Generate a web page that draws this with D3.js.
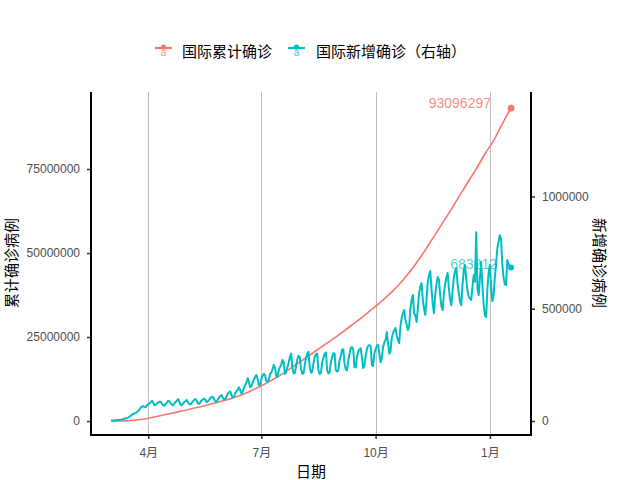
<!DOCTYPE html>
<html><head><meta charset="utf-8">
<script src="https://cdn.jsdelivr.net/npm/d3@7"></script>
<style>body{margin:0;background:#fff} svg{display:block}</style>
</head><body>
<svg id="chart" width="640" height="480"></svg>
<script>
// ---- data ----
const startDate = "2020-03-02";            // first day of the daily series
// daily new confirmed cases (thousands), Mon..Sun per row
const newCasesK = [
  1.8, 2.0, 2.3, 2.5, 3.5, 4.0, 4.5,
  4.8, 6.0, 7.5, 9.0, 11.0, 12.5, 14.0,
  16, 20, 24, 28, 32, 35, 36,
  40, 45, 52, 60, 64, 67, 62,
  62, 70, 75, 78, 84, 90, 82,
  70, 72, 78, 82, 86, 85, 77,
  70, 68, 76, 82, 90, 88, 80,
  73, 70, 78, 85, 90, 98, 86,
  72, 70, 78, 84, 88, 94, 84,
  75, 74, 80, 88, 94, 98, 91,
  78, 76, 84, 92, 96, 100, 94,
  84, 88, 94, 104, 106, 108, 96,
  88, 86, 96, 104, 112, 116, 104,
  96, 98, 110, 120, 128, 132, 116,
  104, 108, 124, 132, 140, 150, 138,
  122, 130, 148, 160, 170, 190, 175,
  150, 155, 172, 185, 195, 205, 188,
  160, 162, 185, 200, 210, 205, 178,
  175, 180, 210, 215, 230, 250, 240,
  200, 196, 225, 240, 250, 272, 262,
  210, 218, 240, 258, 285, 300, 239,
  212, 214, 245, 275, 290, 282, 232,
  210, 212, 250, 280, 300, 308, 240,
  215, 220, 258, 285, 298, 300, 224,
  210, 214, 262, 282, 300, 305, 227,
  212, 216, 260, 285, 302, 300, 225,
  220, 225, 272, 290, 318, 320, 255,
  230, 225, 270, 300, 325, 330, 320,
  240, 238, 285, 310, 318, 325, 284,
  236, 245, 290, 320, 335, 338, 336,
  250, 245, 300, 320, 335, 340, 300,
  262, 280, 330, 350, 360, 396, 350,
  300, 310, 370, 390, 405, 414, 380,
  360, 347, 420, 460, 480, 494, 450,
  430, 405, 420, 500, 540, 561, 480,
  470, 441, 500, 570, 600, 614, 540,
  500, 472, 540, 620, 650, 668, 590,
  520, 481, 560, 610, 641, 630, 560,
  510, 494, 570, 610, 640, 659, 590,
  540, 516, 580, 640, 670, 681, 610,
  570, 530, 516, 610, 670, 695, 630,
  580, 555, 545, 539, 600, 650, 620,
  841, 590, 561, 640, 708, 600, 520,
  470, 463, 590, 660, 695, 600, 534,
  560, 640, 700, 770, 800, 828, 810,
  700, 640, 610, 605, 717, 700, 690,
  683.212
];
// cumulative confirmed cases (millions), every Monday from startDate (last = final day)
const cumulativeM = [
  0.009, 0.030, 0.095, 0.286, 0.676, 1.217, 1.767, 2.321, 2.901, 3.471,
  4.071, 4.691, 5.371, 6.077, 6.877, 7.773, 8.868, 10.118, 11.418, 12.918,
  14.563, 16.313, 18.063, 19.863, 21.663, 23.463, 25.263, 27.163, 29.163, 31.163,
  33.263, 35.353, 37.68, 40.25, 43.26, 46.60, 50.33, 54.37, 58.38, 62.45,
  66.69, 70.91, 75.00, 79.46, 83.47, 88.44, 93.096297
];
const xTickDates  = ["2020-04-01", "2020-07-01", "2020-10-01", "2021-01-01"];
const xTickLabels = ["4月", "7月", "10月", "1月"];
const leftTicks   = [0, 25000000, 50000000, 75000000];
const rightTicks  = [0, 500000, 1000000];
const seriesNames = ["国际累计确诊", "国际新增确诊（右轴）"];
const colors      = ["#F8766D", "#00BFC4"];

// ---- build ----
const parse = d3.utcParse("%Y-%m-%d");
const t0 = parse(startDate);
const daily = newCasesK.map((v, i) => ({ date: d3.utcDay.offset(t0, i), value: Math.round(v * 1000) }));
const cum = cumulativeM.map((v, i) => ({ date: d3.utcDay.offset(t0, i === cumulativeM.length - 1 ? newCasesK.length - 1 : i * 7), value: Math.round(v * 1e6) }));

const svg = d3.select("#chart");
const P = { left: 91, right: 531, top: 92, bottom: 435 };
const numFont = "'Liberation Sans', Arial, 'Noto Sans CJK SC', sans-serif";
const cjkFont = "'Noto Sans CJK SC', 'Liberation Sans', sans-serif";

const x = d3.scaleUtc().domain([t0, daily[daily.length - 1].date]).range([111, 511]);
const yL = d3.scaleLinear().domain([0, 100000000]).range([421, 85]);
const yR = d3.scaleLinear().domain([0, 1000000]).range([421, 196.5]);

// grid
svg.append("g").selectAll("line").data(xTickDates).join("line")
  .attr("x1", d => Math.round(x(parse(d))) + 0.5).attr("x2", d => Math.round(x(parse(d))) + 0.5)
  .attr("y1", P.top).attr("y2", P.bottom)
  .attr("stroke", "#BDBDBD").attr("stroke-width", 1);

// axes
function styleAxis(g) {
  g.select(".domain").remove();
  g.selectAll(".tick line").attr("stroke", "#333").attr("stroke-width", 1.5);
  g.selectAll(".tick text").attr("fill", "#4D4D4D").style("font-family", numFont).style("font-size", "12px");
}
svg.append("g").attr("transform", `translate(${P.left},0)`)
  .call(d3.axisLeft(yL).tickValues(leftTicks).tickFormat(d3.format("d")).tickSize(4).tickPadding(7))
  .call(styleAxis);
svg.append("g").attr("transform", `translate(${P.right},0)`)
  .call(d3.axisRight(yR).tickValues(rightTicks).tickFormat(d3.format("d")).tickSize(4).tickPadding(7))
  .call(styleAxis);
svg.append("g").attr("transform", `translate(0,${P.bottom})`)
  .call(d3.axisBottom(x).tickValues(xTickDates.map(parse)).tickFormat((d, i) => xTickLabels[i]).tickSize(4).tickPadding(9))
  .call(styleAxis);

// axis lines
const axisLines = [[P.left, P.top, P.left, P.bottom + 1], [P.right, P.top, P.right, P.bottom + 1], [P.left - 1, P.bottom, P.right + 1, P.bottom]];
svg.append("g").selectAll("line").data(axisLines).join("line")
  .attr("x1", d => d[0]).attr("y1", d => d[1]).attr("x2", d => d[2]).attr("y2", d => d[3])
  .attr("stroke", "#000").attr("stroke-width", 2);

// lines
svg.append("path").datum(cum)
  .attr("fill", "none").attr("stroke", colors[0]).attr("stroke-width", 1.6)
  .attr("d", d3.line().x(d => x(d.date)).y(d => yL(d.value)).curve(d3.curveMonotoneX));
svg.append("path").datum(daily)
  .attr("fill", "none").attr("stroke", colors[1]).attr("stroke-width", 2).attr("stroke-linejoin", "round")
  .attr("d", d3.line().x(d => x(d.date)).y(d => yR(d.value)));

// end points and labels
const lastCum = cum[cum.length - 1], lastNew = daily[daily.length - 1];
svg.append("circle").attr("cx", x(lastCum.date)).attr("cy", yL(lastCum.value)).attr("r", 3.4).attr("fill", colors[0]);
svg.append("circle").attr("cx", x(lastNew.date)).attr("cy", yR(lastNew.value)).attr("r", 3.0).attr("fill", colors[1]);
svg.append("text").attr("x", 491).attr("y", yL(lastCum.value))
  .attr("text-anchor", "end").attr("fill", colors[0]).attr("fill-opacity", 0.85)
  .style("font-family", numFont).style("font-size", "14px").text(d3.format("d")(lastCum.value));
svg.append("text").attr("x", 497).attr("y", yR(lastNew.value) + 1)
  .attr("text-anchor", "end").attr("fill", colors[1]).attr("fill-opacity", 0.7)
  .style("font-family", numFont).style("font-size", "14px").text(d3.format("d")(lastNew.value));

// axis titles
svg.append("text").attr("x", (P.left + P.right) / 2).attr("y", 477).attr("text-anchor", "middle")
  .style("font-family", cjkFont).style("font-size", "15px").attr("fill", "#000").text("日期");
svg.append("text").attr("transform", "translate(10,263) rotate(-90)").attr("text-anchor", "middle")
  .attr("dominant-baseline", "central").style("font-family", cjkFont).style("font-size", "15px").text("累计确诊病例");
svg.append("text").attr("transform", "translate(600,263) rotate(90)").attr("text-anchor", "middle")
  .attr("dominant-baseline", "central").style("font-family", cjkFont).style("font-size", "15px").text("新增确诊病例");

// legend
const legendItems = [{ x: 155, tx: 182 }, { x: 288, tx: 316 }];
const lg = svg.append("g").selectAll("g").data(seriesNames).join("g");
lg.append("line").attr("x1", (d, i) => legendItems[i].x).attr("x2", (d, i) => legendItems[i].x + 17)
  .attr("y1", 48).attr("y2", 48).attr("stroke", (d, i) => colors[i]).attr("stroke-width", 2.2);
lg.append("circle").attr("cx", (d, i) => legendItems[i].x + 8.5).attr("cy", 47).attr("r", 2.6).attr("fill", (d, i) => colors[i]);
lg.append("text").attr("x", (d, i) => legendItems[i].x + 8.5).attr("y", 56).attr("text-anchor", "middle")
  .attr("fill", (d, i) => colors[i]).attr("fill-opacity", 0.85).style("font-family", numFont).style("font-size", "10px").text("a");
lg.append("text").attr("x", (d, i) => legendItems[i].tx).attr("y", 50).attr("dominant-baseline", "central")
  .style("font-family", cjkFont).style("font-size", "15px").attr("fill", "#000").text(d => d);
</script>
</body></html>
